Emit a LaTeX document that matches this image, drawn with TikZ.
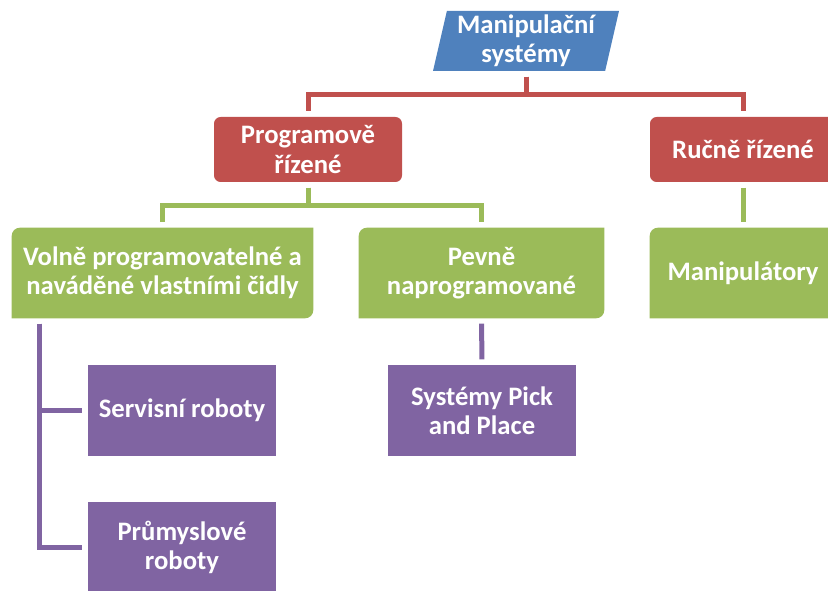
\documentclass[tikz,border=0pt]{standalone}
\usepackage{fontspec}
\setmainfont{Carlito}
\usetikzlibrary{positioning,shapes.geometric,backgrounds}
\definecolor{msBlue}  {HTML}{4F81BD}
\definecolor{msRed}   {HTML}{C0504D}
\definecolor{msGreen} {HTML}{9BBB59}
\definecolor{msViolet}{HTML}{8064A2}

\begin{document}
\begin{tikzpicture}[x=0.75pt,y=0.75pt,
      b/.style={inner sep=0pt,align=center,text=white,
                font=\fontsize{20}{22}\selectfont\bfseries},
      lvl1/.style={b,fill=msRed,rounded corners=5pt,minimum height=48.75pt},
      lvl2/.style={b,minimum height=67.5pt},
      lvl3/.style={b,fill=msViolet,minimum width=141pt,minimum height=68.25pt},
      ln/.style={line width=3.75pt,shorten <=4pt,shorten >=4pt}]
    \path[use as bounding box,clip] (0,0) rectangle (828,590);

    \node[b,trapezium,trapezium left angle=77,trapezium right angle=103,
          trapezium stretches=true,fill=msBlue,
          minimum width=139.5pt,minimum height=45pt] (top) at (526,549)
      {Manipulační\\systémy};

    \node[lvl1,minimum width=141pt]   (prog)  at (308,440.5) {Programově\\řízené};
    \node[lvl1,minimum width=139.5pt] (rucne) at (743,440.5) {Ručně řízené};

    \node[lvl2,minimum width=225.75pt] (volne) at (162.5,317)
      {Volně programovatelné a\\naváděné vlastními čidly};
    \node[lvl2,minimum width=183.75pt] (pevne) at (481.5,317) {Pevně\\naprogramované};
    \node[lvl2,minimum width=139.5pt]  (manip) at (743,317)   {Manipulátory};

    \node[lvl3] (serv) at (182,179.5) {Servisní roboty};
    \node[lvl3] (pick) at (482,179.5) {Systémy Pick\\and Place};
    \node[lvl3] (prum) at (182,42.5)  {Průmyslové\\roboty};

    % green boxes: rounded top left and bottom right only
    \begin{scope}[on background layer]
      \foreach \n in {volne,pevne,manip}
        \fill[msGreen] (\n.south west) -- ([yshift=-6pt]\n.north west)
          arc[start angle=180,end angle=90,radius=6pt] -- (\n.north east)
          -- ([yshift=6pt]\n.south east)
          arc[start angle=0,end angle=-90,radius=6pt] -- cycle;
    \end{scope}

    \foreach \t in {prog,rucne}
      \draw[ln,msRed] (top.south) -- ++(0,-23) -| (\t.north);
    \foreach \t in {volne,pevne}
      \draw[ln,msGreen] (prog.south) -- ++(0,-23) -| (\t.north);
    \draw[ln,msGreen] (rucne.south) -- (manip.north);

    \foreach \t in {serv,prum}
      \draw[ln,msViolet] ([xshift=21pt]volne.south west) |- (\t.west);
    \draw[ln,msViolet] (pevne.south) -- (pick.north);
  \end{tikzpicture}
\end{document}
